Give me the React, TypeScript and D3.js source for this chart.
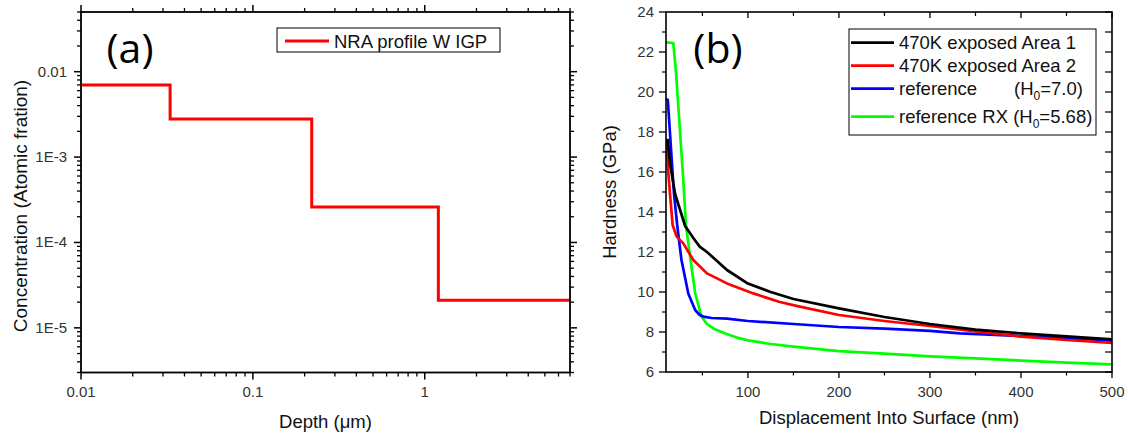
import React from "react";
import * as d3 from "d3";

// ---------- Panel (a) data ----------
const depthEdges = [0.01, 0.033, 0.22, 1.2, 7];
const concLevels = [0.007, 0.0028, 0.00026, 0.000021];
const depthTicks = [0.01, 0.1, 1];
const depthTickLabels = ["0.01", "0.1", "1"];
const concTicks = [1e-5, 1e-4, 1e-3, 1e-2];
const concTickLabels = ["1E-5", "1E-4", "1E-3", "0.01"];

// ---------- Panel (b) data ----------
const dispArea1 = [10, 12, 14.5, 20, 31, 40, 47, 55, 77, 100, 125, 150, 200, 250, 300, 350, 400, 450, 500];
const hardArea1 = [17.6, 17.6, 16.4, 14.9, 13.3, 12.7, 12.27, 12.0, 11.1, 10.42, 10.0, 9.65, 9.18, 8.75, 8.4, 8.12, 7.93, 7.78, 7.63];
const dispArea2 = [10, 11, 12.5, 14.4, 17.3, 21.7, 29, 40, 55, 77, 106, 135, 157, 200, 250, 300, 350, 400, 450, 500];
const hardArea2 = [17.6, 17.3, 16.0, 14.9, 13.35, 12.77, 12.43, 11.6, 10.93, 10.43, 9.93, 9.5, 9.27, 8.85, 8.55, 8.3, 8.03, 7.77, 7.6, 7.45];
const dispRef = [10, 12, 16.3, 18.8, 22.4, 27, 34.5, 42, 47, 51, 60, 77, 100, 150, 200, 250, 300, 333, 400, 450, 500];
const hardRef = [19.65, 19.6, 16.6, 14.9, 13.3, 11.6, 9.93, 9.1, 8.85, 8.77, 8.7, 8.67, 8.55, 8.4, 8.25, 8.17, 8.06, 7.93, 7.8, 7.7, 7.57];
const dispRX = [10, 18, 21, 29, 32, 37, 42, 49, 55, 62, 75, 88, 100, 125, 150, 200, 250, 300, 350, 400, 450, 500];
const hardRX = [22.48, 22.45, 21.0, 15.6, 13.3, 11.6, 9.95, 8.77, 8.4, 8.18, 7.93, 7.72, 7.58, 7.4, 7.27, 7.04, 6.92, 6.78, 6.68, 6.57, 6.47, 6.38];
const dispTicks = [100, 200, 300, 400, 500];
const dispMinor = [50, 150, 250, 350, 450];
const hardTicks = [6, 8, 10, 12, 14, 16, 18, 20, 22, 24];
const hardMinor = [7, 9, 11, 13, 15, 17, 19, 21, 23];

const seriesNames = ["470K exposed Area 1", "470K exposed Area 2", "reference", "reference RX"];
const seriesColors = ["#000000", "#ff0000", "#0000ff", "#00ff00"];

const FONT = "'Liberation Sans', Arial, sans-serif";
const TICK_COLOR = "#333333";

function logMinorTicks(lo: number, hi: number): number[] {
  const out: number[] = [];
  for (let e = Math.floor(Math.log10(lo)); e <= Math.ceil(Math.log10(hi)); e++) {
    for (let m = 2; m <= 9; m++) {
      const v = m * Math.pow(10, e);
      if (v >= lo * 0.9999 && v <= hi * 1.0001) out.push(v);
    }
  }
  return out;
}

function PanelA() {
  const L = 81, R = 570, T = 12, B = 372.5;
  const x = d3.scaleLog().domain([0.01, 7]).range([L, R]);
  const y = d3.scaleLog().domain([3e-6, 0.05]).range([B, T]);
  const pts: [number, number][] = concLevels.map((c, i) => [depthEdges[i], c]);
  pts.push([depthEdges[depthEdges.length - 1], concLevels[concLevels.length - 1]]);
  const line = d3
    .line<[number, number]>()
    .x((d) => x(d[0]))
    .y((d) => y(d[1]))
    .curve(d3.curveStepAfter);
  const xMinor = logMinorTicks(0.01, 7);
  const yMinor = logMinorTicks(3e-6, 0.05);
  const MAJ = 7, MIN = 4;
  return (
    <g>
      <path d={line(pts) || ""} fill="none" stroke="#ff0000" strokeWidth={3} />
      <rect x={L} y={T} width={R - L} height={B - T} fill="none" stroke="#000" strokeWidth={1.8} />
      {depthTicks.map((v) => (
        <g key={"xa" + v}>
          <line x1={x(v)} x2={x(v)} y1={B} y2={B + MAJ} stroke="#000" strokeWidth={1.5} />
          <line x1={x(v)} x2={x(v)} y1={T} y2={T - MAJ} stroke="#000" strokeWidth={1.5} />
        </g>
      ))}
      {xMinor.map((v) => (
        <g key={"xm" + v}>
          <line x1={x(v)} x2={x(v)} y1={B} y2={B + MIN} stroke="#000" strokeWidth={1.3} />
          <line x1={x(v)} x2={x(v)} y1={T} y2={T - MIN} stroke="#000" strokeWidth={1.3} />
        </g>
      ))}
      {concTicks.map((v) => (
        <g key={"ya" + v}>
          <line x1={L} x2={L - MAJ} y1={y(v)} y2={y(v)} stroke="#000" strokeWidth={1.5} />
          <line x1={R} x2={R + MAJ} y1={y(v)} y2={y(v)} stroke="#000" strokeWidth={1.5} />
        </g>
      ))}
      {yMinor.map((v) => (
        <g key={"ym" + v}>
          <line x1={L} x2={L - MIN} y1={y(v)} y2={y(v)} stroke="#000" strokeWidth={1.3} />
          <line x1={R} x2={R + MIN} y1={y(v)} y2={y(v)} stroke="#000" strokeWidth={1.3} />
        </g>
      ))}
      {depthTicks.map((v, i) => (
        <text key={"xl" + v} x={x(v)} y={397} textAnchor="middle" fontSize={15} fill={TICK_COLOR}>
          {depthTickLabels[i]}
        </text>
      ))}
      {concTicks.map((v, i) => (
        <text key={"yl" + v} x={67} y={y(v) + 5} textAnchor="end" fontSize={15} fill={TICK_COLOR}>
          {concTickLabels[i]}
        </text>
      ))}
      <text x={(L + R) / 2} y={428} textAnchor="middle" fontSize={18.5} fill="#111">
        Depth (μm)
      </text>
      <text transform={`translate(27,206) rotate(-90)`} textAnchor="middle" fontSize={19} fill="#111">
        Concentration (Atomic fration)
      </text>
      <text x={130} y={63} textAnchor="middle" fontSize={41} fontFamily="'Open Sans', sans-serif" fill="#000">
        (a)
      </text>
      <rect x={277} y={28} width={223} height={24} fill="#fff" stroke="#000" strokeWidth={1} />
      <line x1={285} x2={329} y1={41} y2={41} stroke="#ff0000" strokeWidth={3} />
      <text x={334} y={48} fontSize={18.5} fill="#111">
        NRA profile W IGP
      </text>
    </g>
  );
}

function PanelB() {
  const L = 666, R = 1112, T = 12, B = 372;
  const x = d3.scaleLinear().domain([10, 500]).range([L, R]);
  const y = d3.scaleLinear().domain([6, 24]).range([B, T]);
  const mk = (xs: number[], ys: number[]) =>
    d3
      .line<number>()
      .x((_, i) => x(xs[i]))
      .y((d) => y(d))(ys) || "";
  const series = [
    [dispArea1, hardArea1],
    [dispArea2, hardArea2],
    [dispRef, hardRef],
    [dispRX, hardRX],
  ];
  const drawOrder = [3, 2, 1, 0];
  const MAJ = 7, MIN = 4;
  const rowsY = [42.7, 65.7, 88.7, 116.7];
  return (
    <g>
      <defs>
        <clipPath id="clipB">
          <rect x={L} y={T} width={R - L} height={B - T} />
        </clipPath>
      </defs>
      <g clipPath="url(#clipB)">
        {drawOrder.map((i) => (
          <path
            key={"s" + i}
            d={mk(series[i][0], series[i][1])}
            fill="none"
            stroke={seriesColors[i]}
            strokeWidth={2.7}
            strokeLinejoin="round"
          />
        ))}
      </g>
      <rect x={L} y={T} width={R - L} height={B - T} fill="none" stroke="#000" strokeWidth={1.6} />
      {dispTicks.map((v) => (
        <g key={"bx" + v}>
          <line x1={x(v)} x2={x(v)} y1={B} y2={B + 6} stroke="#000" strokeWidth={1.3} />
          <line x1={x(v)} x2={x(v)} y1={T} y2={T + 6} stroke="#000" strokeWidth={1.3} />
        </g>
      ))}
      {dispMinor.map((v) => (
        <g key={"bxm" + v}>
          <line x1={x(v)} x2={x(v)} y1={B} y2={B + 3.5} stroke="#000" strokeWidth={1.2} />
          <line x1={x(v)} x2={x(v)} y1={T} y2={T + 4} stroke="#000" strokeWidth={1.2} />
        </g>
      ))}
      {hardTicks.map((v) => (
        <g key={"by" + v}>
          <line x1={L} x2={L - MAJ} y1={y(v)} y2={y(v)} stroke="#000" strokeWidth={1.3} />
          <line x1={R} x2={R - 7} y1={y(v)} y2={y(v)} stroke="#000" strokeWidth={1.2} />
        </g>
      ))}
      {hardMinor.map((v) => (
        <g key={"bym" + v}>
          <line x1={L} x2={L - MIN} y1={y(v)} y2={y(v)} stroke="#000" strokeWidth={1.2} />
          <line x1={R} x2={R - 7} y1={y(v)} y2={y(v)} stroke="#000" strokeWidth={1.2} />
        </g>
      ))}
      {dispTicks.map((v) => (
        <text key={"bxl" + v} x={x(v)} y={397} textAnchor="middle" fontSize={15} fill={TICK_COLOR}>
          {v}
        </text>
      ))}
      {hardTicks.map((v) => (
        <text key={"byl" + v} x={654} y={y(v) + 5} textAnchor="end" fontSize={15} fill={TICK_COLOR}>
          {v}
        </text>
      ))}
      <text x={(L + R) / 2} y={424} textAnchor="middle" fontSize={18.5} fill="#111">
        Displacement Into Surface (nm)
      </text>
      <text transform={`translate(616,192) rotate(-90)`} textAnchor="middle" fontSize={18.5} fill="#111">
        Hardness (GPa)
      </text>
      <text x={718} y={63} textAnchor="middle" fontSize={41} fontFamily="'Open Sans', sans-serif" fill="#000">
        (b)
      </text>
      <rect x={849} y={29} width={247} height={106} fill="#fff" stroke="#000" strokeWidth={1} />
      {seriesNames.map((n, i) => (
        <line key={"ll" + i} x1={851} x2={894} y1={rowsY[i]} y2={rowsY[i]} stroke={seriesColors[i]} strokeWidth={2.7} />
      ))}
      <text x={899} y={rowsY[0] + 6.5} fontSize={18.5} fill="#111">{seriesNames[0]}</text>
      <text x={899} y={rowsY[1] + 6.5} fontSize={18.5} fill="#111">{seriesNames[1]}</text>
      <text x={899} y={rowsY[2] + 6.5} fontSize={18.5} fill="#111">{seriesNames[2]}</text>
      <text x={1014} y={rowsY[2] + 6.5} fontSize={18.5} fill="#111">
        (H<tspan fontSize={12} dy={5}>0</tspan>
        <tspan dy={-5}>=7.0)</tspan>
      </text>
      <text x={899} y={rowsY[3] + 6.5} fontSize={18.5} fill="#111">
        {seriesNames[3]} (H<tspan fontSize={12} dy={5}>0</tspan>
        <tspan dy={-5}>=5.68)</tspan>
      </text>
    </g>
  );
}

export default function App() {
  return (
    <svg
      width={1128}
      height={436}
      viewBox="0 0 1128 436"
      style={{ display: "block", position: "absolute", left: 0, top: 0, background: "#fff" }}
      fontFamily={FONT}
    >
      <rect x={0} y={0} width={1128} height={436} fill="#fff" />
      <PanelA />
      <PanelB />
    </svg>
  );
}
